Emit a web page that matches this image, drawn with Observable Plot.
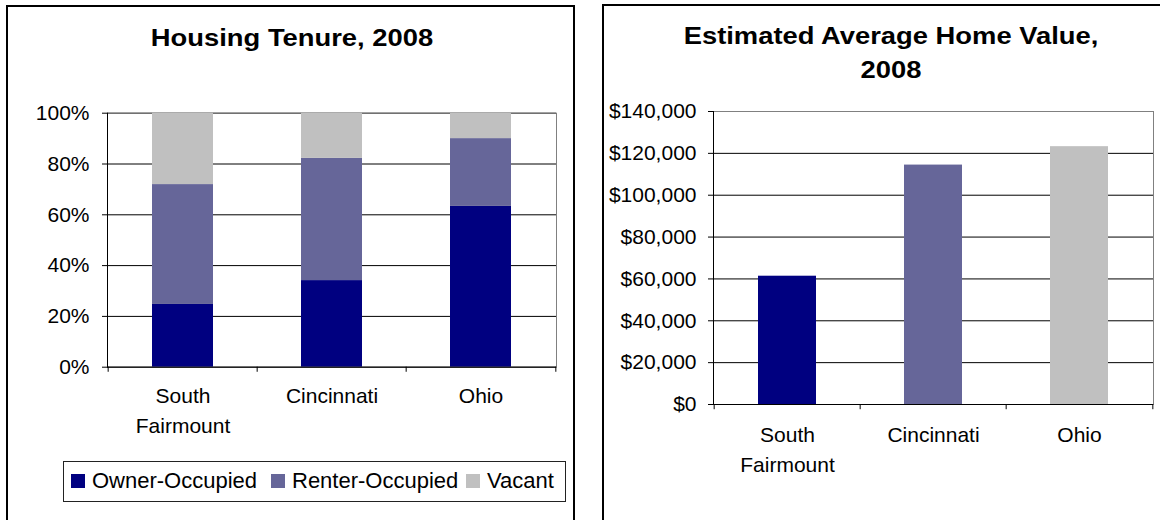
<!DOCTYPE html>
<html><head><meta charset="utf-8">
<script src="https://cdn.jsdelivr.net/npm/d3@7"></script>
<script src="https://cdn.jsdelivr.net/npm/@observablehq/plot@0.6"></script>
<style>
body{margin:0;width:1160px;height:520px;overflow:hidden;background:#fff;font-family:"Liberation Sans",Arial,sans-serif;position:relative}
.panel{position:absolute;border:2.5px solid #000;box-sizing:border-box}
.title{position:absolute;font-weight:bold;text-align:center;color:#000;font-size:24px;line-height:34px;transform:scaleX(1.14);transform-origin:50% 50%}
.abs{position:absolute}
.sw{position:absolute;width:14px;height:14px}
.lt{position:absolute;font-size:22px;line-height:24px;color:#000;white-space:nowrap}
</style></head><body>
<div class="panel" style="left:6px;top:5px;width:569px;height:540px"></div>
<div class="panel" style="left:602px;top:3.5px;width:600px;height:540px"></div>
<div class="title" style="left:9px;width:566px;top:21px">Housing Tenure, 2008</div>
<div class="title" style="left:603px;width:576px;top:19px">Estimated Average Home Value,<br>2008</div>
<div id="c1" class="abs" style="left:7px;top:90px"></div>
<div id="c2" class="abs" style="left:590px;top:90px"></div>
<div id="legend" class="abs" style="left:63px;top:461px;width:503px;height:41px;border:1px solid #222;box-sizing:border-box"></div>
<script>
// ---- data ----
const categories = ["South\nFairmount", "Cincinnati", "Ohio"];
const tenureSeries = ["Owner-Occupied", "Renter-Occupied", "Vacant"];
const ownerPct  = [24.7, 34.1, 63.3];
const renterPct = [47.2, 48.1, 26.7];
const vacantPct = [28.1, 17.8, 10.0];
const homeValue = [61300, 114400, 123200];
const pctTicks = [0, 20, 40, 60, 80, 100];
const dollarTicks = [0, 20000, 40000, 60000, 80000, 100000, 120000, 140000];
const palette = ["#000080", "#666699", "#C0C0C0"];

const tenureRows = [];
[ownerPct, renterPct, vacantPct].forEach((vals, s) =>
  vals.forEach((v, i) => tenureRows.push({cat: categories[i], series: tenureSeries[s], value: v})));
const valueRows = homeValue.map((v, i) => ({cat: categories[i], value: v}));

const font = {fontFamily: "'Liberation Sans', Arial, sans-serif", fontSize: "21px", color: "#000", background: "transparent", overflow: "visible"};

// ---- left chart ----
const w1 = 566, ml1 = 100, mr1 = 17;
const step1 = (w1 - ml1 - mr1) / categories.length;
const chart1 = Plot.plot({
  width: w1, height: 350, marginLeft: ml1, marginRight: mr1, marginTop: 22.7, marginBottom: 73.3,
  style: font,
  x: {domain: categories, paddingInner: 0.59, paddingOuter: 0.295},
  y: {domain: [0, 100]},
  color: {domain: tenureSeries, range: palette},
  marks: [
    Plot.gridY(pctTicks, {stroke: "#000", strokeOpacity: 1}),
    Plot.frame({stroke: "#808080"}),
    Plot.barY(tenureRows, {x: "cat", y: "value", fill: "series"}),
    Plot.ruleY([0], {stroke: "#000"}),
    Plot.frame({anchor: "left", stroke: "#000"}),
    Plot.ruleX(categories, {x: d => d, dx: -step1 / 2, y1: 0, y2: -2, stroke: "#000"}),
    Plot.ruleX([categories[categories.length - 1]], {x: d => d, dx: step1 / 2, y1: 0, y2: -2, stroke: "#000"}),
    Plot.axisY(pctTicks, {tickFormat: d => d + "%", tickSize: 5, tickPadding: 13, stroke: "#000", label: null}),
    Plot.axisX({tickSize: 0, tickPadding: 14, lineHeight: 1.43, label: null})
  ]
});
document.getElementById("c1").append(chart1);

// ---- right chart ----
const w2 = 570, ml2 = 123, mr2 = 7;
const step2 = (w2 - ml2 - mr2) / categories.length;
const chart2 = Plot.plot({
  width: w2, height: 390, marginLeft: ml2, marginRight: mr2, marginTop: 21, marginBottom: 76,
  style: font,
  x: {domain: categories, paddingInner: 0.6, paddingOuter: 0.3},
  y: {domain: [0, 140000]},
  color: {domain: categories, range: palette},
  marks: [
    Plot.gridY(dollarTicks, {stroke: "#000", strokeOpacity: 1}),
    Plot.frame({stroke: "#808080"}),
    Plot.barY(valueRows, {x: "cat", y: "value", fill: "cat"}),
    Plot.ruleY([0], {stroke: "#000"}),
    Plot.frame({anchor: "left", stroke: "#000"}),
    Plot.ruleX(categories, {x: d => d, dx: -step2 / 2, y1: 0, y2: -2500, stroke: "#000"}),
    Plot.ruleX([categories[categories.length - 1]], {x: d => d, dx: step2 / 2, y1: 0, y2: -2500, stroke: "#000"}),
    Plot.axisY(dollarTicks, {tickFormat: d => "$" + d3.format(",")(d), tickSize: 5, tickPadding: 12, stroke: "#000", label: null}),
    Plot.axisX({tickSize: 0, tickPadding: 16, lineHeight: 1.43, label: null})
  ]
});
document.getElementById("c2").append(chart2);

// ---- legend ----
const legend = document.getElementById("legend");
const legendX = [[7, 28], [207, 228], [402, 423]];
tenureSeries.forEach((s, i) => {
  const sw = document.createElement("div");
  sw.className = "sw"; sw.style.left = legendX[i][0] + "px"; sw.style.top = "12px"; sw.style.background = palette[i];
  const t = document.createElement("div");
  t.className = "lt"; t.style.left = legendX[i][1] + "px"; t.style.top = "7px"; t.textContent = s;
  legend.append(sw, t);
});
</script>
</body></html>
